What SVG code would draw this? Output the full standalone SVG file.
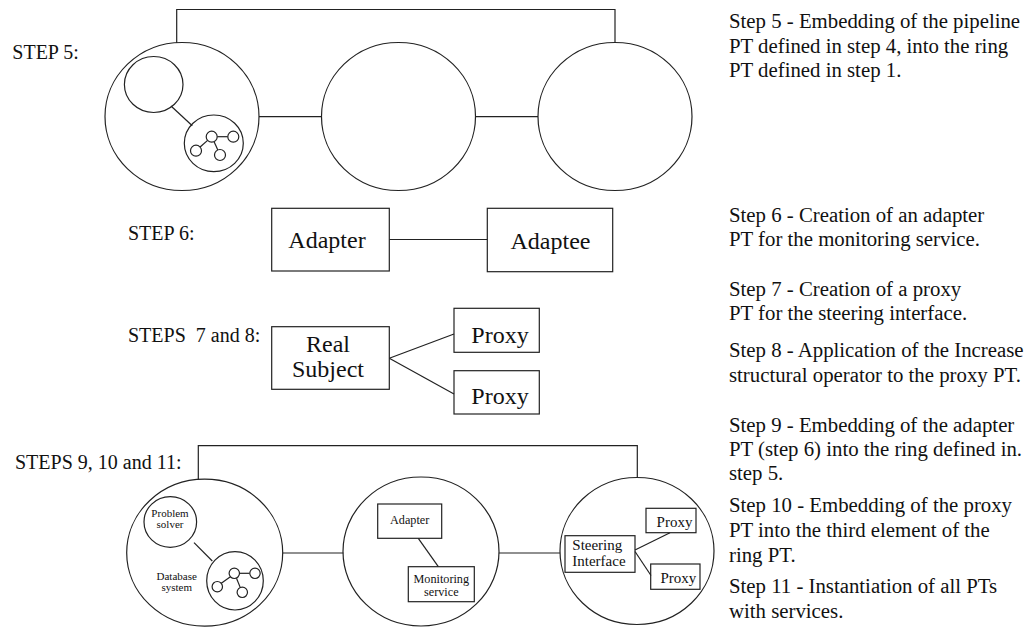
<svg xmlns="http://www.w3.org/2000/svg" width="1026" height="630" viewBox="0 0 1026 630" font-family="'Liberation Serif', 'Times New Roman', Times, serif">
<style>
.s{fill:none;stroke:#222;stroke-width:1.2}
.n{fill:#fff;stroke:#222;stroke-width:1.2}
text{font-family:"Liberation Serif","Times New Roman",Times,serif;fill:#111}
.lbl{font-size:20px}
.desc{font-size:20.8px}
.big{font-size:24px;text-anchor:middle}
.sm{font-size:11px;text-anchor:middle}
.md{font-size:12.2px;text-anchor:middle}
.mp{font-size:15px}
</style>
<rect width="1026" height="630" fill="#fff"/>

<g id="connectors">
  <path class="s" d="M176.7,43 V9.5 H615 V42.5"/>
  <line class="s" x1="259" y1="116.7" x2="321.5" y2="116.7"/>
  <line class="s" x1="475.5" y1="116.7" x2="538" y2="116.7"/>
  <line class="s" x1="171" y1="106" x2="192.3" y2="125.7"/>
  <line class="s" x1="389.3" y1="239.5" x2="487.3" y2="239.5"/>
  <line class="s" x1="389.3" y1="358.3" x2="454" y2="334"/>
  <line class="s" x1="389.3" y1="358.3" x2="454" y2="394"/>
  <path class="s" d="M198.3,479.5 V445.7 H637.3 V477.5"/>
  <line class="s" x1="282.7" y1="553" x2="343.3" y2="553"/>
  <line class="s" x1="499" y1="553" x2="560" y2="553"/>
  <line class="s" x1="194" y1="542.7" x2="212.3" y2="561"/>
  <line class="s" x1="418.3" y1="538.3" x2="438.3" y2="566.7"/>
  <line class="s" x1="635" y1="550" x2="670" y2="532.7"/>
  <line class="s" x1="635" y1="551.5" x2="651" y2="575.5"/>
</g>

<g id="step5-label"><text class="lbl" x="12.3" y="59.3">STEP 5:</text></g>

<g id="ring5-a">
  <ellipse class="s" cx="182" cy="116.5" rx="77" ry="74"/>
  <ellipse class="s" cx="153.7" cy="84.5" rx="29.3" ry="28"/>
  <ellipse class="s" cx="213.8" cy="143.3" rx="29.5" ry="28.3"/>
  <g>
    <line class="s" x1="217.2" y1="136.7" x2="227.8" y2="136.7"/>
    <line class="s" x1="207.6" y1="140.4" x2="200.1" y2="147"/>
    <line class="s" x1="214" y1="141.6" x2="217.8" y2="150.1"/>
    <circle class="n" cx="211.7" cy="136.7" r="5.5"/>
    <circle class="n" cx="233.3" cy="136.7" r="5.5"/>
    <circle class="n" cx="196" cy="150.7" r="5.5"/>
    <circle class="n" cx="220" cy="155" r="5.5"/>
  </g>
</g>
<g id="ring5-b"><ellipse class="s" cx="398.5" cy="116.5" rx="77" ry="74"/></g>
<g id="ring5-c"><ellipse class="s" cx="615" cy="116.5" rx="77" ry="74"/></g>

<g id="step6-label"><text class="lbl" x="128" y="239.5">STEP 6:</text></g>
<g id="adapter"><rect class="s" x="271.7" y="208.3" width="117.6" height="62.7"/><text class="big" x="327" y="248">Adapter</text></g>
<g id="adaptee"><rect class="s" x="487.3" y="208.3" width="125.4" height="63.4"/><text class="big" x="550.5" y="249">Adaptee</text></g>

<g id="step78-label"><text class="lbl" x="128" y="341.5" xml:space="preserve">STEPS  7 and 8:</text></g>
<g id="real-subject"><rect class="s" x="271.7" y="326.7" width="117.6" height="62.6"/><text class="big" x="328" y="352">Real</text><text class="big" x="328" y="377">Subject</text></g>
<g id="proxy-1"><rect class="s" x="454" y="308.3" width="85.3" height="44"/><text class="big" x="500" y="343">Proxy</text></g>
<g id="proxy-2"><rect class="s" x="454" y="370.7" width="85.3" height="43.3"/><text class="big" x="500" y="403.5">Proxy</text></g>

<g id="step911-label"><text class="lbl" x="15" y="469.3">STEPS 9, 10 and 11:</text></g>

<g id="ring11-a">
  <ellipse class="s" cx="204.7" cy="552.7" rx="78" ry="73.5"/>
  <ellipse class="s" cx="170.3" cy="522" rx="26.3" ry="25.3"/>
  <text class="sm" x="170" y="517.3">Problem</text>
  <text class="sm" x="170" y="527.8">solver</text>
  <ellipse class="s" cx="235" cy="580.8" rx="28.3" ry="29.2"/>
  <text class="sm" x="176.7" y="580">Database</text>
  <text class="sm" x="176.7" y="590.5">system</text>
  <g>
    <line class="s" x1="239.5" y1="573.3" x2="249.8" y2="573.3"/>
    <line class="s" x1="230.4" y1="576.7" x2="221.3" y2="583.3"/>
    <line class="s" x1="236.5" y1="578.2" x2="240.2" y2="587.4"/>
    <circle class="n" cx="234.3" cy="573.3" r="5.2"/>
    <circle class="n" cx="255" cy="573.3" r="5.2"/>
    <circle class="n" cx="217.3" cy="586.7" r="5.2"/>
    <circle class="n" cx="242.3" cy="592.3" r="5.2"/>
  </g>
</g>
<g id="ring11-b">
  <ellipse class="s" cx="421" cy="551.5" rx="78" ry="74.5"/>
  <rect class="s" x="377.7" y="504" width="64" height="34.3"/>
  <text class="md" x="409.7" y="524">Adapter</text>
  <rect class="s" x="408.3" y="566.7" width="66" height="35"/>
  <text class="md" x="441.3" y="583">Monitoring</text>
  <text class="md" x="441.3" y="595.5">service</text>
</g>
<g id="ring11-c">
  <ellipse class="s" cx="637" cy="551" rx="77" ry="73.5"/>
  <rect class="s" x="565" y="535.7" width="70" height="36.6"/>
  <text class="mp" x="572.3" y="549.5">Steering</text>
  <text class="mp" x="572.3" y="566">Interface</text>
  <rect class="s" x="646" y="508.3" width="50" height="24.4"/>
  <text class="mp" x="674.5" y="526.7" text-anchor="middle">Proxy</text>
  <rect class="s" x="650.7" y="564" width="49.3" height="25.3"/>
  <text class="mp" x="678.3" y="582.7" text-anchor="middle">Proxy</text>
</g>

<g id="descriptions" xml:space="preserve">
  <text class="desc" x="729" y="28.3">Step 5 - Embedding of the pipeline</text>
  <text class="desc" x="729" y="53">PT defined in step 4, into the ring</text>
  <text class="desc" x="729" y="77.3">PT defined in step 1.</text>
  <text class="desc" x="729" y="221.7">Step 6 - Creation of an adapter</text>
  <text class="desc" x="729" y="245.5">PT for the monitoring service.</text>
  <text class="desc" x="729" y="296">Step 7 - Creation of a proxy</text>
  <text class="desc" x="729" y="320">PT for the steering interface.</text>
  <text class="desc" x="729" y="356.7">Step 8 - Application of the Increase</text>
  <text class="desc" x="729" y="381.5">structural operator to the proxy PT.</text>
  <text class="desc" x="729" y="431.7">Step 9 -  Embedding of the adapter</text>
  <text class="desc" x="729" y="456">PT (step 6) into the ring defined in.</text>
  <text class="desc" x="729" y="480">step 5.</text>
  <text class="desc" x="729" y="511.7">Step 10 -  Embedding of the proxy</text>
  <text class="desc" x="729" y="536.5">PT into the third element of the</text>
  <text class="desc" x="729" y="561.5">ring PT.</text>
  <text class="desc" x="729" y="593.3">Step 11 - Instantiation of all PTs</text>
  <text class="desc" x="729" y="618">with services.</text>
</g>
</svg>
